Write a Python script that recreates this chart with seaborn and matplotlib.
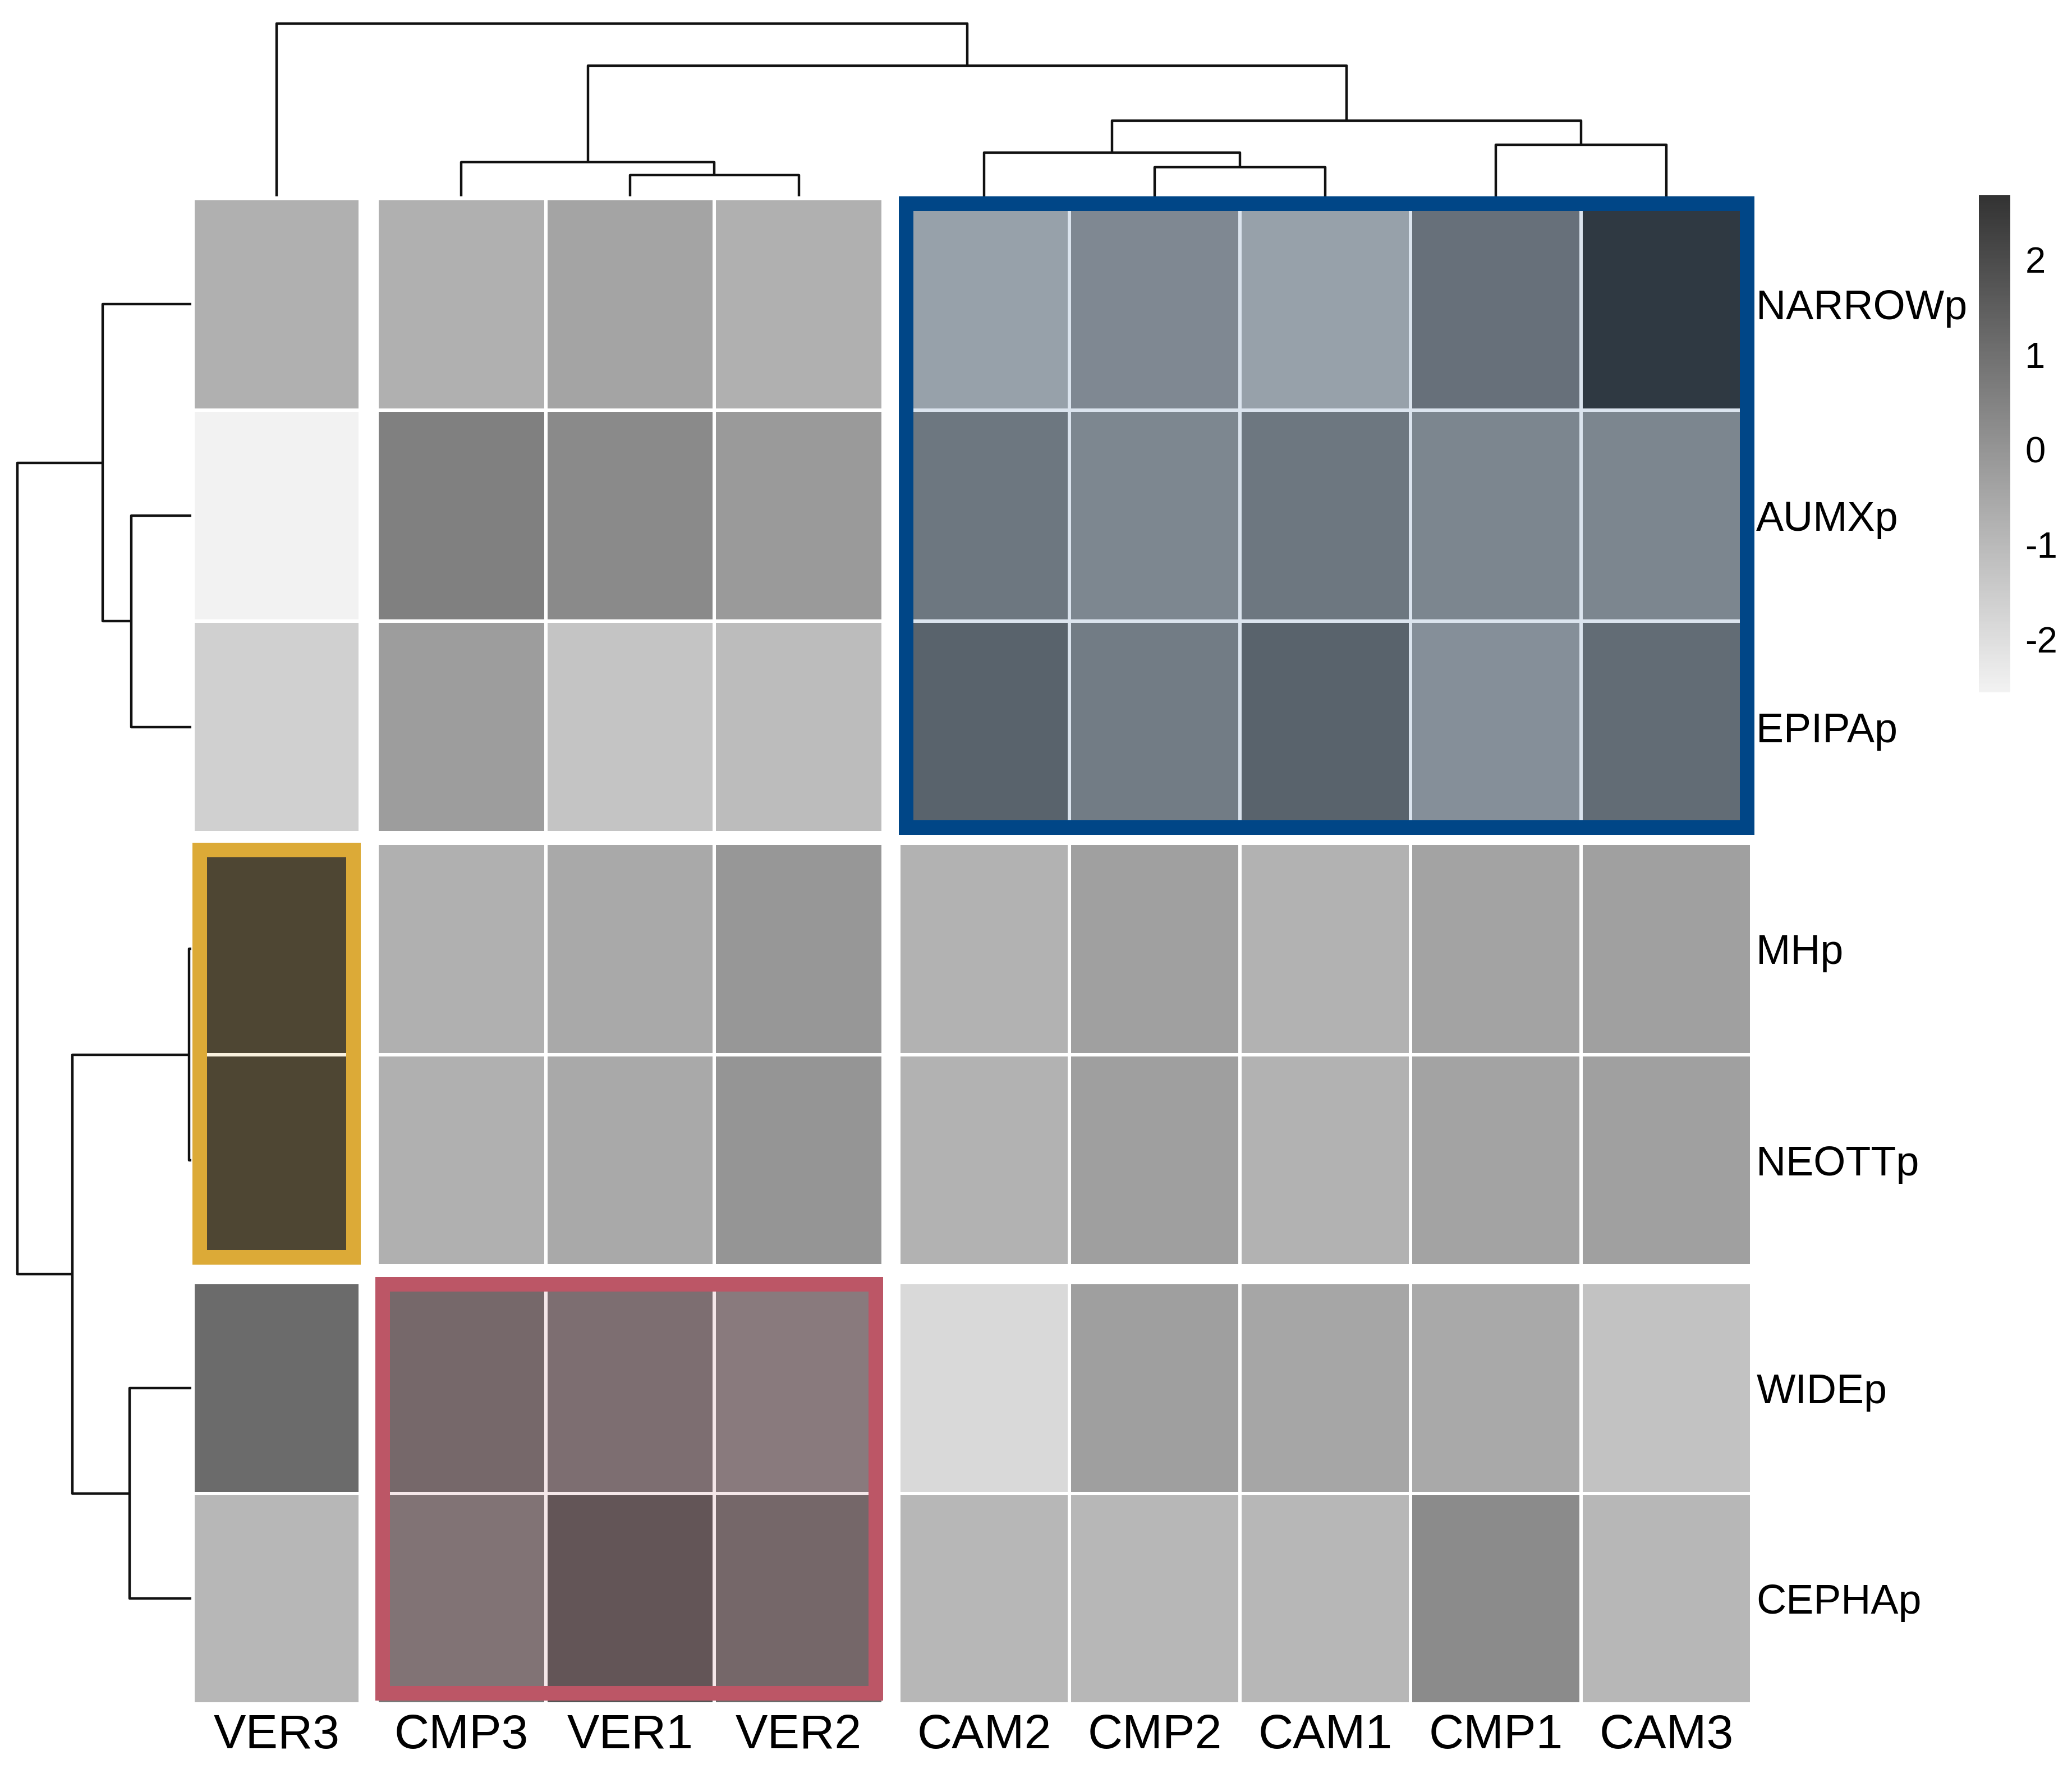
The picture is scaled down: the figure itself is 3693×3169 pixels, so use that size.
import numpy as np
import pandas as pd
import matplotlib
matplotlib.use("Agg")
import matplotlib.pyplot as plt
import seaborn as sns
from matplotlib.colors import LinearSegmentedColormap
from matplotlib.patches import Rectangle

# data (row-scaled values)
rows = ["NARROWp", "AUMXp", "EPIPAp", "MHp", "NEOTTp", "WIDEp", "CEPHAp"]
cols = ["VER3", "CMP3", "VER1", "VER2", "CAM2", "CMP2", "CAM1", "CMP1", "CAM3"]

narrow = [-0.75, -0.75, -0.42, -0.75, -0.75, 0.02, -0.75, 0.79, 2.57]
aumx = [-2.56, 0.57, 0.29, -0.15, 0.57, 0.06, 0.57, 0.10, 0.10]
epipa = [-1.60, -0.23, -1.30, -1.08, 1.21, 0.41, 1.21, -0.20, 0.92]
mh = [2.68, -0.75, -0.56, -0.06, -0.78, -0.31, -0.78, -0.37, -0.31]
neott = [2.68, -0.75, -0.56, -0.01, -0.78, -0.28, -0.78, -0.40, -0.31]
wide = [1.14, 1.14, 0.92, 0.54, -1.85, -0.28, -0.47, -0.56, -1.24]
cepha = [-0.94, 0.79, 1.72, 1.17, -0.94, -0.94, -0.94, 0.27, -0.94]

row_groups = [3, 2, 2]
col_groups = [1, 3, 5]

# merges (left, right, height) in hclust style, leaves in display order
col_links = [(2, 3, 0.38), (1, 9, 0.61), (5, 6, 0.52), (4, 11, 0.78),
             (7, 8, 0.92), (12, 13, 1.35), (10, 14, 2.33), (0, 15, 3.08)]
row_links = [(1, 2, 1.07), (0, 7, 1.58), (3, 4, 0.04), (5, 6, 1.10),
             (9, 10, 2.12), (8, 11, 3.10)]

cbar_ticks = [-2, -1, 0, 1, 2]
vmin, vmax = -2.56, 2.68

df = pd.DataFrame([narrow, aumx, epipa, mh, neott, wide, cepha], index=rows, columns=cols)

# layout in pixels
W, H = 3693, 3169
col_edges = [(344, 642), (672, 1574), (1602, 3122)]
row_edges = [(354, 1484), (1503, 2256), (2286, 3037)]


def fig_rect(x0, y0, x1, y1):
    return [x0 / W, 1 - y1 / H, (x1 - x0) / W, (y1 - y0) / H]


sns.set_style("white")
plt.rcParams["font.family"] = ["Liberation Sans", "DejaVu Sans"]
plt.rcParams["text.color"] = "black"
plt.rcParams["xtick.color"] = "black"
plt.rcParams["ytick.color"] = "black"

cmap = LinearSegmentedColormap.from_list("greys", ["#f2f2f2", "#333333"])

fig = plt.figure(figsize=(W / 100, H / 100), dpi=100)
fig.patch.set_facecolor("white")

cax = fig.add_axes(fig_rect(3527, 348, 3583, 1234))

rs = np.cumsum([0] + row_groups)
cs = np.cumsum([0] + col_groups)

for i, (r0, r1) in enumerate(row_edges):
    for j, (c0, c1) in enumerate(col_edges):
        ax = fig.add_axes(fig_rect(c0, r0, c1, r1))
        sub = df.iloc[rs[i]:rs[i + 1], cs[j]:cs[j + 1]]
        first = (i == 0 and j == 0)
        sns.heatmap(sub, ax=ax, cmap=cmap, vmin=vmin, vmax=vmax,
                    linewidths=3, linecolor="white",
                    cbar=first, cbar_ax=cax if first else None,
                    xticklabels=(i == 2), yticklabels=(j == 2))
        ax.set_xlabel("")
        ax.set_ylabel("")
        if i == 2:
            ax.tick_params(axis="x", length=0, pad=12, labelsize=62,
                           labelrotation=0, labelcolor="black")
        if j == 2:
            ax.yaxis.tick_right()
            ax.tick_params(axis="y", length=0, pad=6, labelsize=53,
                           labelrotation=0, labelcolor="black")
            for t in ax.get_yticklabels():
                t.set_ha("left")
        if first:
            cb = ax.collections[0].colorbar

cb.outline.set_visible(False)
cb.set_ticks(cbar_ticks)
cb.set_ticklabels([str(t) for t in cbar_ticks])
cb.ax.tick_params(length=0, pad=19, labelsize=47, labelcolor="black")


def draw_dendro(ax, links, leaf_pos, top):
    pos = list(leaf_pos)
    hgt = [0.0] * len(leaf_pos)
    for a, b, h in links:
        xs = [pos[a], pos[a], pos[b], pos[b]]
        ys = [hgt[a], h, h, hgt[b]]
        if top:
            ax.plot(xs, ys, color="#111111", lw=3.2, clip_on=False, solid_capstyle="butt")
        else:
            ax.plot(ys, xs, color="#111111", lw=3.2, clip_on=False, solid_capstyle="butt")
        pos.append((pos[a] + pos[b]) / 2)
        hgt.append(h)


# leaf centres from the block layout
col_centers = []
for (c0, c1), n in zip(col_edges, col_groups):
    w = (c1 - c0) / n
    col_centers += [c0 + w * (k + 0.5) for k in range(n)]
row_centers = []
for (r0, r1), n in zip(row_edges, row_groups):
    h = (r1 - r0) / n
    row_centers += [r0 + h * (k + 0.5) for k in range(n)]

dax = fig.add_axes(fig_rect(344, 42, 3122, 350))
draw_dendro(dax, col_links, col_centers, True)
dax.set_xlim(344, 3122)
dax.set_ylim(0, col_links[-1][2])
dax.axis("off")

rax = fig.add_axes(fig_rect(31, 354, 341, 3037))
draw_dendro(rax, row_links, row_centers, False)
rax.set_xlim(row_links[-1][2], 0)
rax.set_ylim(3037, 354)
rax.axis("off")

# highlight boxes
boxes = [("#004687", 0.14, (1602, 350, 3127, 1488)),
         ("#dcaa37", 0.16, (343, 1502, 643, 2254)),
         ("#bc5666", 0.14, (669, 2276, 1574, 3031))]
lw_px = 26
for color, alpha, (x0, y0, x1, y1) in boxes:
    rgb = matplotlib.colors.to_rgb(color)
    r = Rectangle(((x0 + lw_px / 2) / W, 1 - (y1 - lw_px / 2) / H),
                  (x1 - x0 - lw_px) / W, (y1 - y0 - lw_px) / H,
                  transform=fig.transFigure, facecolor=rgb + (alpha,),
                  edgecolor=rgb, linewidth=lw_px * 72 / 100, joinstyle="miter")
    fig.add_artist(r)

fig.savefig("out.png", dpi=100, facecolor="white")
